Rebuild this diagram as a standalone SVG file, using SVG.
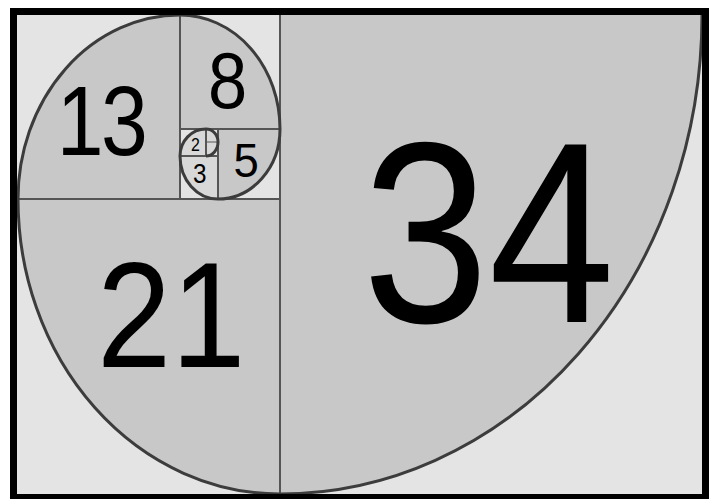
<svg xmlns="http://www.w3.org/2000/svg" width="709" height="499" viewBox="0 0 709 499">
<style>
.sec{fill:#c8c8c8;stroke:none}
.grid{stroke:#555;stroke-width:2;fill:none}
.spiral{stroke:#3c3c3c;stroke-width:3;fill:none}
.num{font-family:"Liberation Sans",Arial,sans-serif;fill:#000}
</style>
<rect x="0" y="0" width="709" height="499" fill="#ffffff"/>
<rect x="17" y="15" width="686" height="480" fill="#e4e4e4"/>
<g id="sq34">
<path class="sec" d="M280 15 L702 15 A422 479 0 0 1 280 494 Z"/>
<text class="num" font-size="258" transform="translate(362.5,322) scale(0.879,1)">34</text>
</g>
<g id="sq21">
<path class="sec" d="M280 199 L280 494 A262 295 0 0 1 18 199 Z"/>
<text class="num" font-size="149.5" transform="translate(97,367) scale(0.892,1)">21</text>
</g>
<g id="sq13">
<path class="sec" d="M180 199 L18 199 A162 184 0 0 1 180 15 Z"/>
<text class="num" font-size="99" letter-spacing="-3" transform="translate(56.8,155) scale(0.85,1)">13</text>
</g>
<g id="sq8">
<path class="sec" d="M180 129 L180 15 A100 114 0 0 1 280 129 Z"/>
<text class="num" font-size="80" text-anchor="middle" transform="translate(227.5,107.5) scale(0.88,1)">8</text>
</g>
<g id="sq5">
<path class="sec" d="M218 129 L280 129 A62 70 0 0 1 218 199 Z"/>
<text class="num" font-size="49" text-anchor="middle" transform="translate(246.2,176.5) scale(0.93,1)">5</text>
</g>
<g id="sq3">
<path class="sec" d="M218 156 L218 199 A38 43 0 0 1 180 156 Z" style="fill:#d8d8d8"/>
<text class="num" font-size="27" text-anchor="middle" transform="translate(199.7,182.5) scale(0.9,1)">3</text>
</g>
<g id="sq2">
<path class="sec" d="M206 156 L180 156 A26 27 0 0 1 206 129 Z" style="fill:#d8d8d8"/>
<text class="num" font-size="17.7" text-anchor="middle" transform="translate(195.3,151) scale(0.9,1)">2</text>
</g>
<g id="sq1a">
<path class="sec" d="M206 142 L206 129 A12 13 0 0 1 218 142 Z" style="fill:#d8d8d8"/>
</g>
<g id="sq1b">
<path class="sec" d="M206 142 L218 142 A12 14 0 0 1 206 156 Z" style="fill:#d8d8d8"/>
</g>
<g id="connectors">
<line class="grid" x1="280" y1="15" x2="280" y2="494"/>
<line class="grid" x1="17" y1="199" x2="280" y2="199"/>
<line class="grid" x1="180" y1="15" x2="180" y2="199"/>
<line class="grid" x1="180" y1="129" x2="280" y2="129"/>
<line class="grid" x1="218" y1="129" x2="218" y2="199"/>
<line class="grid" x1="180" y1="156" x2="218" y2="156"/>
<line class="grid" x1="206" y1="129" x2="206" y2="156"/>
<line class="grid" x1="206" y1="142" x2="218" y2="142" style="stroke-width:1"/>
<path class="spiral" d="M702 15 A422 479 0 0 1 280 494 A262 295 0 0 1 18 199 A162 184 0 0 1 180 15 A100 114 0 0 1 280 129 A62 70 0 0 1 218 199 A38 43 0 0 1 180 156 A26 27 0 0 1 206 129 A12 13 0 0 1 218 142 A12 14 0 0 1 206 156"/>
</g>
<rect x="13.5" y="11.5" width="692" height="486" fill="none" stroke="#000" stroke-width="7"/>
</svg>
